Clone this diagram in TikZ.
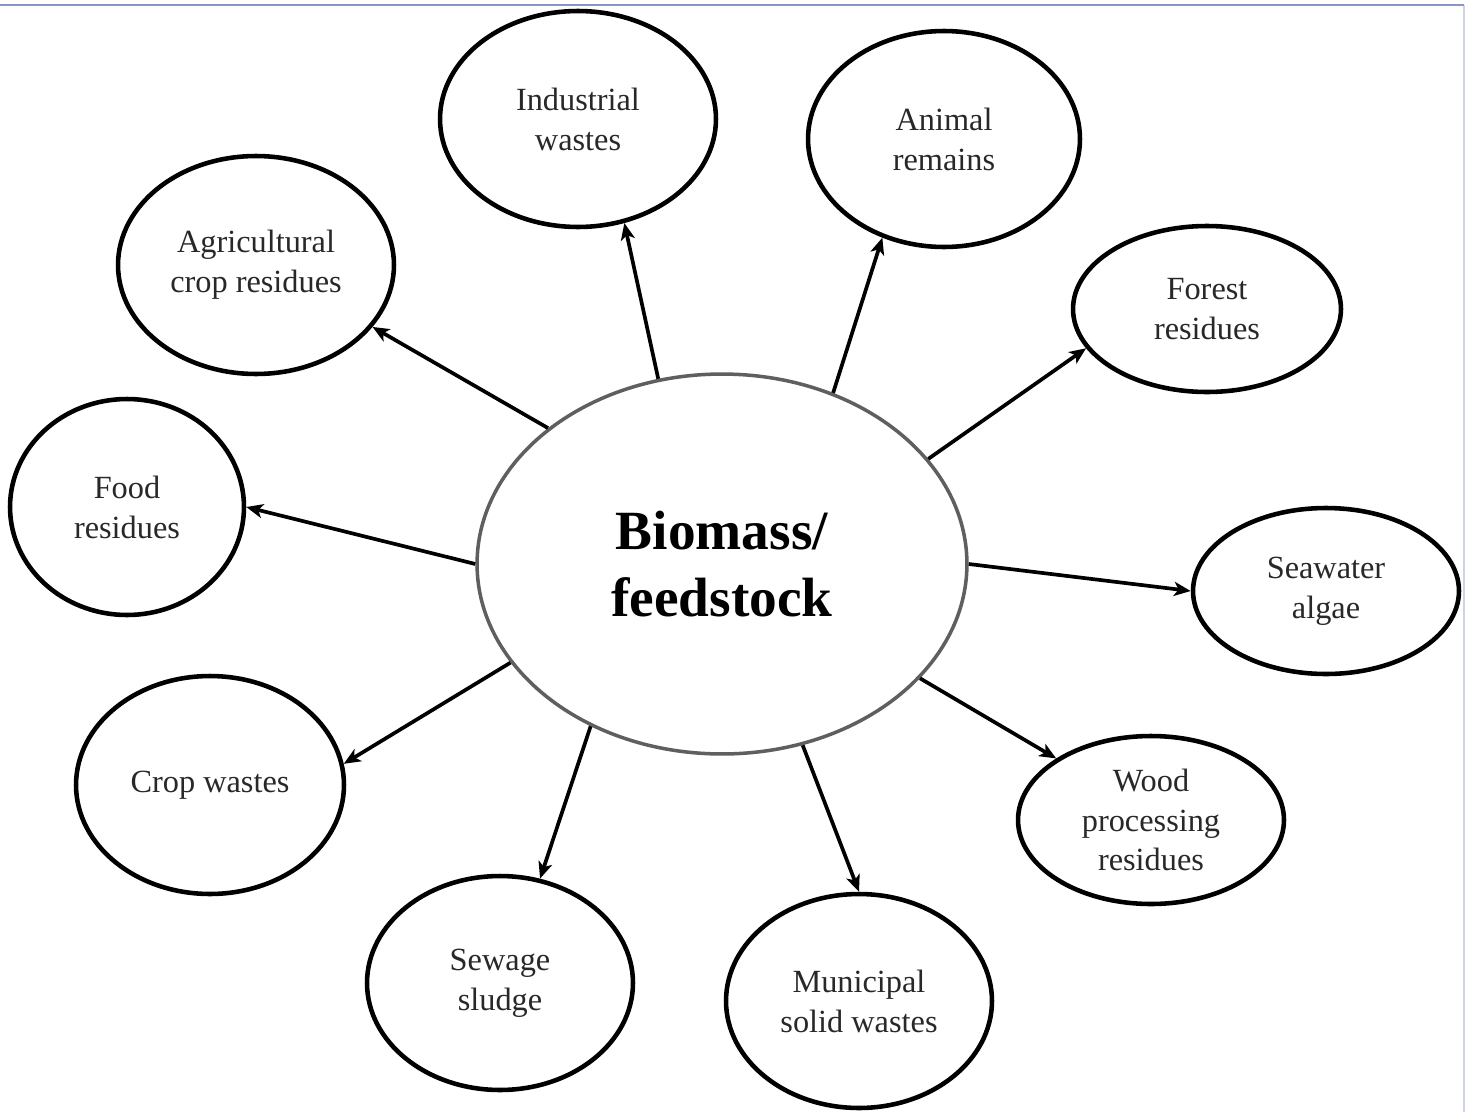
\documentclass[tikz,border=0pt]{standalone}
\usepackage{fontspec}
\setmainfont{Liberation Serif}
\usetikzlibrary{shapes.geometric,arrows.meta}
\definecolor{txt}{RGB}{40,40,40}
\definecolor{hub}{RGB}{95,95,95}
\definecolor{frameblue}{RGB}{135,150,195}
\definecolor{framelight}{RGB}{205,210,228}
\begin{document}
\begin{tikzpicture}[x=0.02cm,y=-0.02cm,
  leaf/.style={ellipse,draw=black,line width=2.6pt,inner sep=0pt,align=center,
    text=txt,font=\fontsize{18.4}{22.7}\selectfont},
  hubnode/.style={ellipse,draw=hub,line width=2pt,inner sep=0pt,align=center,
    font=\bfseries\fontsize{31.5}{38}\selectfont},
  link/.style={line width=2.1pt,-{Stealth[length=9.5pt,width=8pt,inset=2.5pt]}}]
\useasboundingbox (0,0) rectangle (1471,1112);
\fill[white] (0,0) rectangle (1471,1112);
% frame lines
\draw[framelight,line width=0.6pt] (1464,5) -- (1464,1112);
\draw[frameblue,line width=1.1pt] (0,5) -- (1464,5);
% nodes
\node[hubnode,minimum width=9.80cm,minimum height=7.60cm] (bio) at (722,564) {Biomass/\\feedstock};
\node[leaf,minimum width=5.52cm,minimum height=4.32cm] (ind) at (578,119) {Industrial\\wastes};
\node[leaf,minimum width=5.44cm,minimum height=4.32cm] (ani) at (944,139) {Animal\\remains};
\node[leaf,minimum width=5.52cm,minimum height=4.36cm] (agr) at (256,265) {Agricultural\\crop residues};
\node[leaf,minimum width=5.36cm,minimum height=3.32cm] (for) at (1207,309) {Forest\\residues};
\node[leaf,minimum width=4.68cm,minimum height=4.32cm] (foo) at (127,507) {Food\\residues};
\node[leaf,minimum width=5.32cm,minimum height=3.32cm] (sea) at (1326,591) {Seawater\\algae};
\node[leaf,minimum width=5.36cm,minimum height=4.36cm] (cro) at (210,785) {Crop wastes};
\node[leaf,minimum width=5.32cm,minimum height=3.36cm] (woo) at (1151,820) {Wood\\processing\\residues};
\node[leaf,minimum width=5.32cm,minimum height=4.28cm] (sew) at (500,983) {Sewage\\sludge};
\node[leaf,minimum width=5.32cm,minimum height=4.28cm] (mun) at (859,1001) {Municipal\\solid wastes};
% connectors
\draw[link] (bio.109) -- (ind.294.4);
\draw[link] (bio.57) -- (ani.238.8);
\draw[link] (bio.142) -- (agr.332);
\draw[link] (bio.27) -- (for.198);
\draw[link] (bio.180) -- (foo.0);
\draw[link] (bio.0) -- (sea.180);
\draw[link] (bio.205.5) -- (cro.9.5);
\draw[link] (bio.330.3) -- (woo.147.3);
\draw[link] (bio.231.8) -- (sew.69.8);
\draw[link] (bio.294.9) -- (mun.90);
\end{tikzpicture}
\end{document}
